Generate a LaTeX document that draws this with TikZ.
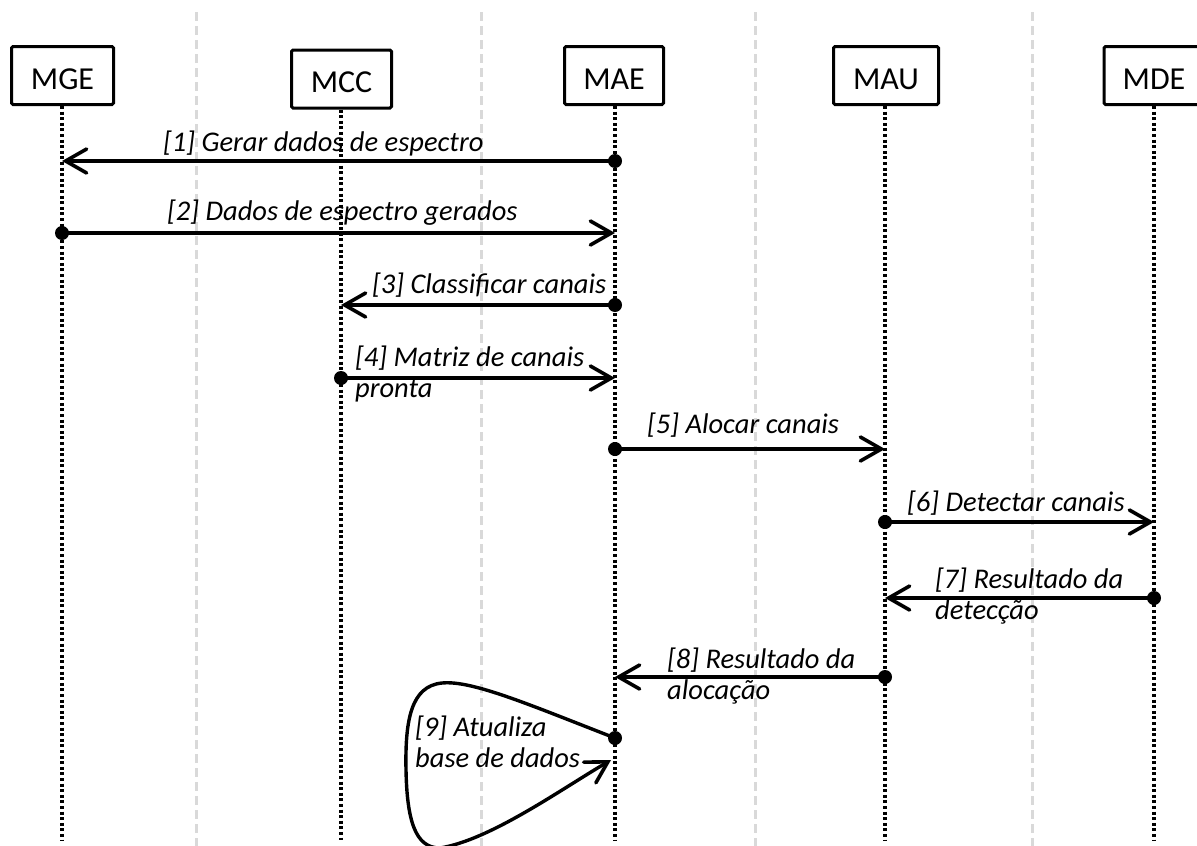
\documentclass[tikz,border=0pt]{standalone}
\usepackage{fontspec}
\setmainfont{Carlito}
\usetikzlibrary{arrows.meta}

\begin{document}
\begin{tikzpicture}[x=1pt,y=-1pt,
  actor/.style={draw, line width=3pt, rounded corners=1.5pt, fill=white,
    minimum height=58pt, inner sep=0pt, text height=27pt, text depth=0pt,
    font=\fontsize{32}{36}\selectfont},
  life/.style={line width=4pt, dash pattern=on 3pt off 2.6pt},
  guide/.style={line width=3pt, draw=black!15, dash pattern=on 9pt off 5pt},
  msg/.style={line width=3.4pt, line cap=round,
    -{Straight Barb[length=21pt,width=24pt,line width=3.6pt,line cap=round]}},
  dot/.style={fill=black},
  lbl/.style={anchor=base west, inner sep=0pt, align=left,
    font=\fontsize{28.5}{31}\selectfont\itshape},
]
\useasboundingbox (0,0) rectangle (1197,846);
\clip (0,0) rectangle (1197,846);

% background column guides
\foreach \gx in {196,481,755,1032}
  \draw[guide] (\gx,12) -- (\gx,846);

% participants
\node[actor, minimum width=102pt] (mge) at (62.5,75.5) {MGE};
\node[actor, minimum width=100pt] (mcc) at (341.5,79) {MCC};
\node[actor, minimum width=99pt]  (mae) at (614,75.5) {MAE};
\node[actor, minimum width=105pt] (mau) at (886,75.5) {MAU};
\node[actor, minimum width=100pt] (mde) at (1154,75.5) {MDE};

% lifelines
\coordinate (mge-end) at (62,840);
\coordinate (mcc-end) at (341,840);
\coordinate (mae-end) at (615,840);
\coordinate (mau-end) at (885,840);
\coordinate (mde-end) at (1154,840);
\draw[life] (mge.south -| mge-end) -- (mge-end);
\draw[life] (mcc.south -| mcc-end) -- (mcc-end);
\draw[life] (mae.south -| mae-end) -- (mae-end);
\draw[life] (mau.south -| mau-end) -- (mau-end);
\draw[life] (mde.south -| mde-end) -- (mde-end);

% message end points on the lifelines
\coordinate (m1s) at (615,161);  \coordinate (m1e) at (62,161);
\coordinate (m2s) at (62,233);   \coordinate (m2e) at (615,233);
\coordinate (m3s) at (615,305);  \coordinate (m3e) at (341,305);
\coordinate (m4s) at (341,378);  \coordinate (m4e) at (615,378);
\coordinate (m5s) at (615,449);  \coordinate (m5e) at (885,449);
\coordinate (m6s) at (885,522);  \coordinate (m6e) at (1154,522);
\coordinate (m7s) at (1154,598); \coordinate (m7e) at (885,598);
\coordinate (m8s) at (885,677);  \coordinate (m8e) at (615,677);
\coordinate (m9s) at (615,738);  \coordinate (m9e) at (611,760);

% messages
\draw[msg] (m1s) -- (m1e);
\draw[msg] (m2s) -- (m2e);
\draw[msg] (m3s) -- (m3e);
\draw[msg] (m4s) -- (m4e);
\draw[msg] (m5s) -- (m5e);
\draw[msg] (m6s) -- (m6e);
\draw[msg] (m7s) -- (m7e);
\draw[msg] (m8s) -- (m8e);
% self message: loop on the MAE lifeline
\draw[msg] (m9s) .. controls (530,705) and (472,680) .. (442,683)
  .. controls (411,686) and (405,720) .. (406,770)
  .. controls (407,820) and (415,848) .. (440,848)
  .. controls (490,840) and (560,790) .. (m9e);

% sender dots
\foreach \p in {m1s,m2s,m3s,m4s,m5s,m6s,m7s,m8s,m9s}
  \fill[dot] (\p) circle (7pt);

% message labels (multi-line labels are placed by their last baseline)
\node[lbl] (l1) at (163,151) {[1] Gerar dados de espectro};
\node[lbl] (l2) at (167,220) {[2] Dados de espectro gerados};
\node[lbl] (l3) at (372,293) {[3] Classificar canais};
\node[lbl] (l4) at (355,397) {[4] Matriz de canais\\pronta};
\node[lbl] (l5) at (647,433) {[5] Alocar canais};
\node[lbl] (l6) at (907,511) {[6] Detectar canais};
\node[lbl] (l7) at (935,619) {[7] Resultado da\\detecção};
\node[lbl] (l8) at (667,699) {[8] Resultado da\\alocação};
\node[lbl] (l9) at (415,767) {[9] Atualiza\\base de dados};
\end{tikzpicture}
\end{document}
